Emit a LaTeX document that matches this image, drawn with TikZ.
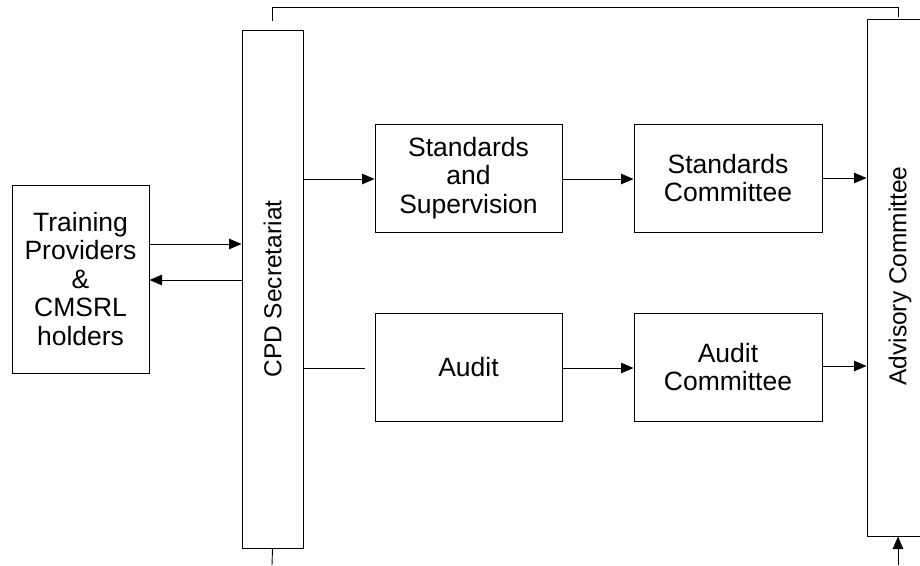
\documentclass[tikz,border=0pt]{standalone}
\usepackage{fontspec}
\setmainfont{Liberation Sans}
\usetikzlibrary{arrows.meta}
\begin{document}
\begin{tikzpicture}[x=1pt,y=-1pt,
  blk/.style={draw, line width=1pt, inner sep=0pt, align=center,
    font=\fontsize{26.5}{28.5}\selectfont},
  vblk/.style={draw, line width=1pt, inner sep=0pt},
  vtxt/.style={rotate=90, inner sep=0pt, font=\fontsize{24.5}{27}\selectfont},
  conn/.style={line width=0.9pt},
  arr/.style={conn, -{Triangle[length=12.5pt,width=10.5pt]}}]
\useasboundingbox (0,0) rectangle (920,565);

% boxes
\node[blk, minimum width=137pt, minimum height=188pt] (train) at (80.5,279)
  {Training\\Providers\\\&\\CMSRL\\holders};
\node[vblk, minimum width=61pt, minimum height=518pt] (cpd) at (272.5,289) {};
\node[vtxt] (cpdtxt) at (cpd.center) {CPD Secretariat};
\node[blk, minimum width=187pt, minimum height=108pt] (ss) at (468.5,178) {Standards\\and\\Supervision};
\node[blk, minimum width=188pt, minimum height=108pt] (sc) at (728,178) {Standards\\Committee};
\node[blk, minimum width=187pt, minimum height=108pt] (au) at (468.5,367) {Audit};
\node[blk, minimum width=188pt, minimum height=108pt] (ac) at (728,367) {Audit\\Committee};
\node[vblk, minimum width=80pt, minimum height=517pt] (adv) at (907,277.5) {};
\node[vtxt] (advtxt) at (900,276) {Advisory Committee};

% free ends of connectors
\coordinate (topA) at (272,21);
\coordinate (topB) at (898,17);
\coordinate (botA) at (272,565);
\coordinate (botB) at (898,565);
\coordinate (audA) at (365,368);

% connectors
\draw[arr] (train.east |- 0,244) -- (cpd.west |- 0,244);
\draw[arr] (cpd.west |- 0,280) -- (train.east |- 0,280);
\draw[arr] (cpd.east |- 0,179) -- (ss.west |- 0,179);
\draw[arr] (ss.east |- 0,179) -- (sc.west |- 0,179);
\draw[arr] (sc.east |- 0,178) -- (adv.west |- 0,178);
\draw[conn] (cpd.east |- 0,368) -- (audA);
\draw[arr] (au.east |- 0,368) -- (ac.west |- 0,368);
\draw[arr] (ac.east |- 0,366) -- (adv.west |- 0,366);
\draw[conn] (topA) -- (272,7) -- (898,7) -- (topB);
\draw[conn] (cpd.south) -- (botA);
\draw[arr] (botB) -- (adv.south -| botB);
\end{tikzpicture}
\end{document}
